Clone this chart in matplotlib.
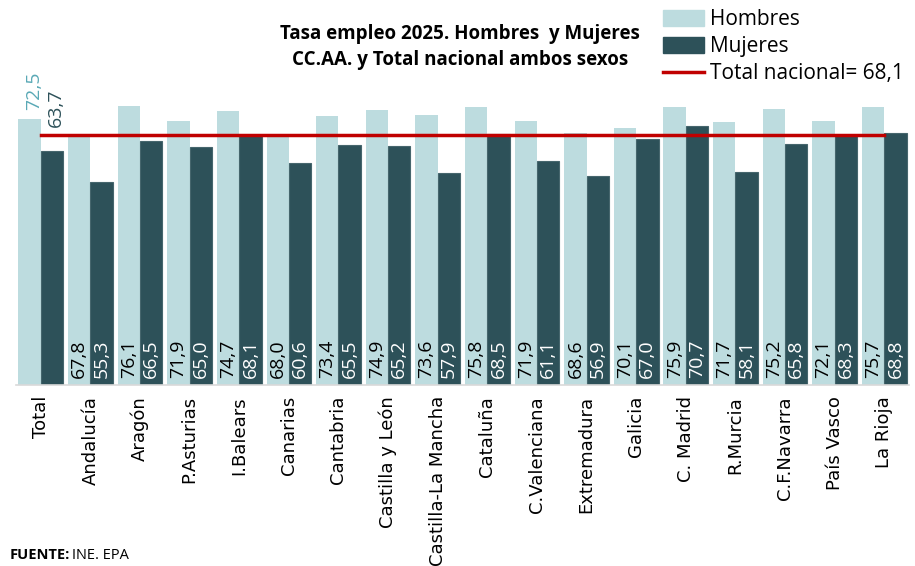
import numpy as np
import matplotlib.pyplot as plt
from matplotlib.patches import Patch
from matplotlib.lines import Line2D

regiones = ['Total', 'Andalucía', 'Aragón', 'P.Asturias', 'I.Balears', 'Canarias',
            'Cantabria', 'Castilla y León', 'Castilla-La Mancha', 'Cataluña',
            'C.Valenciana', 'Extremadura', 'Galicia', 'C. Madrid', 'R.Murcia',
            'C.F.Navarra', 'País Vasco', 'La Rioja']
hombres = [72.5, 67.8, 76.1, 71.9, 74.7, 68.0, 73.4, 74.9, 73.6, 75.8,
           71.9, 68.6, 70.1, 75.9, 71.7, 75.2, 72.1, 75.7]
mujeres = [63.7, 55.3, 66.5, 65.0, 68.1, 60.6, 65.5, 65.2, 57.9, 68.5,
           61.1, 56.9, 67.0, 70.7, 58.1, 65.8, 68.3, 68.8]
total_nacional = 68.1

c_hom = '#bddcdf'
c_muj = '#2d5159'
c_red = '#c00000'

def fmt(v):
    return f'{v:.1f}'.replace('.', ',')

fig = plt.figure(figsize=(9.15, 5.66), dpi=100)
ax = fig.add_axes([0.0175, 0.3198, 0.976, 0.6802])

x = np.arange(len(regiones))
w = 0.45
ax.bar(x - w / 2, hombres, w, color=c_hom, linewidth=0)
ax.bar(x + w / 2, mujeres, w, color=c_muj, edgecolor='#46666d', linewidth=0.8)
ax.plot([x[0], x[-1]], [total_nacional, total_nacional], color=c_red, lw=2.5)

# etiquetas dentro de las barras (abajo)
for i in range(1, len(regiones)):
    ax.text(x[i] - w / 2, 1.8, fmt(hombres[i]), rotation=90, ha='center', va='bottom',
            fontsize=14, color='black', family='Open Sans')
    ax.text(x[i] + w / 2, 1.8, fmt(mujeres[i]), rotation=90, ha='center', va='bottom',
            fontsize=14, color='white', family='Open Sans')

# Total: etiquetas encima
ax.text(x[0] - w / 2 + 0.1, hombres[0] + 2.4, fmt(hombres[0]), rotation=90, ha='center',
        va='bottom', fontsize=14, color='#5aa9b6', family='Open Sans')
ax.text(x[0] + w / 2 + 0.07, total_nacional + 2.2, fmt(mujeres[0]), rotation=90, ha='center',
        va='bottom', fontsize=14, color=c_muj, family='Open Sans')

ax.set_xlim(-0.5, len(regiones) - 0.5)
ax.set_ylim(0, 105)
ax.set_xticks(x)
ax.set_xticklabels(regiones, rotation=90, fontsize=13, family='DejaVu Sans')
ax.tick_params(axis='x', length=0, pad=8)
ax.set_yticks([])
for s in ['top', 'right', 'left']:
    ax.spines[s].set_visible(False)
ax.spines['bottom'].set_color('#d9d9d9')
ax.spines['bottom'].set_linewidth(1.2)

fig.text(0.503, 0.917, 'Tasa empleo 2025. Hombres  y Mujeres\nCC.AA. y Total nacional ambos sexos',
         ha='center', va='center', fontsize=13.5, fontweight='bold', family='Open Sans',
         linespacing=1.35)

handles = [Patch(color=c_hom), Patch(color=c_muj), Line2D([], [], color=c_red, lw=2.5)]
labels = ['Hombres', 'Mujeres', 'Total nacional= 68,1']
fig.legend(handles, labels, loc='upper left', bbox_to_anchor=(0.722, 0.988), frameon=False,
           prop={'family': 'Open Sans', 'size': 15}, handlelength=2.0, handleheight=0.8,
           handletextpad=0.25, labelspacing=0.3, borderaxespad=0, borderpad=0.1)

fig.text(0.011, 0.012, 'FUENTE:', fontsize=10.5, fontweight='bold', family='Open Sans')
fig.text(0.079, 0.012, 'INE. EPA', fontsize=10.5, family='Open Sans')

fig.savefig('out.png', dpi=100)
